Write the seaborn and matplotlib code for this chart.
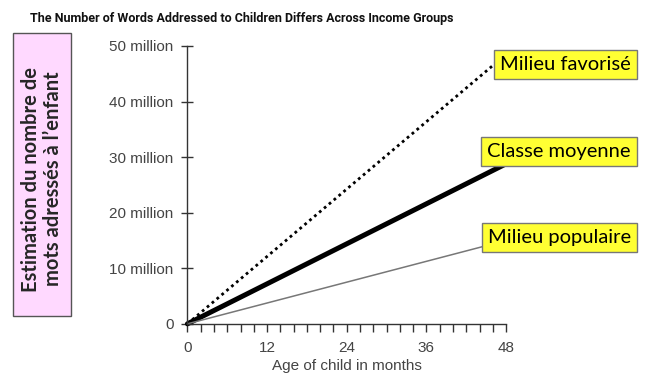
import numpy as np
import pandas as pd
import matplotlib.pyplot as plt
import seaborn as sns
from matplotlib.patches import Rectangle
from matplotlib.ticker import MultipleLocator, FuncFormatter

# data
months = [0, 48]
favorise = [0, 48.5e6]
moyenne = [0, 28.8e6]
populaire = [0, 15.0e6]
group_names = ["Milieu favorisé", "Classe moyenne", "Milieu populaire"]

df = pd.DataFrame({
    "month": months * 3,
    "words": favorise + moyenne + populaire,
    "group": [g for g in group_names for _ in months],
})

sns.set_theme(style="white")
plt.rcParams['font.family'] = ['Liberation Sans', 'DejaVu Sans']

fig = plt.figure(figsize=(6.53, 3.77), dpi=100)
ax = fig.add_axes([0.287, 0.141, 0.488, 0.737])

line_styles = {
    "Milieu favorisé": dict(color="black", lw=2.0, ls=(0, (1, 1.3))),
    "Classe moyenne": dict(color="black", lw=3.6, ls="-"),
    "Milieu populaire": dict(color="#777777", lw=1.1, ls="-"),
}
for g in group_names:
    sub = df[df["group"] == g]
    st = line_styles[g]
    sns.lineplot(data=sub, x="month", y="words", ax=ax, color=st["color"],
                 linewidth=st["lw"], linestyle=st["ls"], legend=False, clip_on=False)

ax.set_xlim(0, 48)
ax.set_ylim(0, 50e6)
ax.xaxis.set_major_locator(MultipleLocator(12))
ax.xaxis.set_minor_locator(MultipleLocator(2))
ax.yaxis.set_major_locator(MultipleLocator(10e6))
ax.yaxis.set_major_formatter(FuncFormatter(
    lambda v, p: "0" if v == 0 else f"{int(v / 1e6)} million"))

for s in ["top", "right"]:
    ax.spines[s].set_visible(False)
for s in ["left", "bottom"]:
    ax.spines[s].set_color("#333333")
    ax.spines[s].set_linewidth(1.0)

ax.tick_params(axis="x", which="both", direction="out", length=6, width=1,
               color="#333333", labelsize=11, labelcolor="#444444", bottom=True, pad=6)
ax.tick_params(axis="y", which="major", direction="inout", length=8, width=1,
               color="#333333", labelsize=11, labelcolor="#444444", left=True, pad=6)

ax.set_xlabel("Age of child in months", fontsize=11, color="#444444", labelpad=3)
ax.set_ylabel("")

fig.text(0.046, 0.952, "The Number of Words Addressed to Children Differs Across Income Groups",
         fontsize=9, fontweight="bold", family=["Roboto", "DejaVu Sans"],
         color="#111111", ha="left", va="center")

# pink y label box
fig.add_artist(Rectangle((0.020, 0.162), 0.089, 0.750, transform=fig.transFigure,
                         facecolor="#FFD9FF", edgecolor="#555555", lw=1))
fig.text(0.0645, 0.525, "Estimation du nombre de\nmots adressés à l’enfant",
         rotation=90, ha="center", va="center", fontsize=14.5, fontweight="bold",
         family=["Lato", "DejaVu Sans"], linespacing=1.1)

# yellow group labels
label_y = [0.829, 0.598, 0.370]
for g, yy in zip(group_names, label_y):
    fig.text(0.966, yy, g, ha="right", va="center", fontsize=14.5,
             family=["Lato", "DejaVu Sans"], color="black",
             bbox=dict(boxstyle="square,pad=0.3", facecolor="#FFFF33", edgecolor="#777777", lw=1))

fig.savefig("out.png", dpi=100)
